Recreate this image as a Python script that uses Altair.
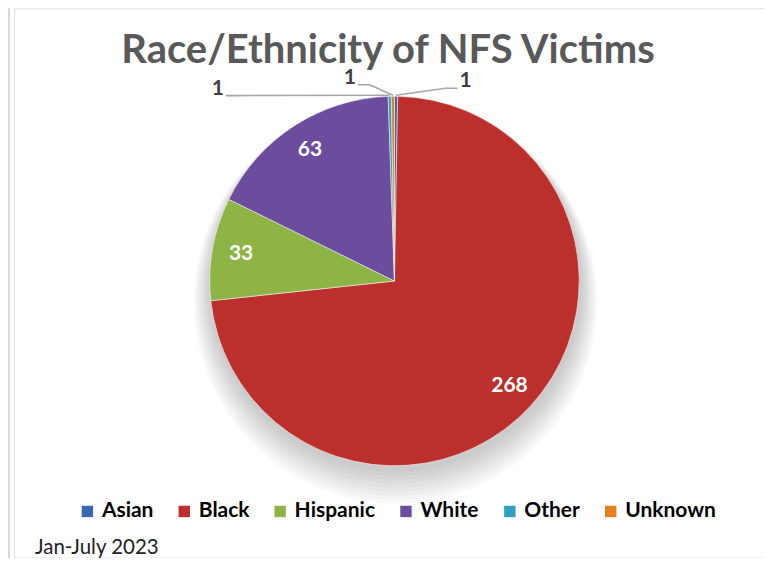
import math
import altair as alt
import pandas as pd

# ---- data ----
categories = ["Asian", "Black", "Hispanic", "White", "Other", "Unknown"]
values = [1, 268, 33, 63, 1, 1]
colors = ["#3767AE", "#BB302C", "#8DB444", "#6C4C9C", "#2EA0C2", "#E6801E"]

# outside-label placement (style): angle (deg, clockwise from top) and radius of leader end
small_label_angle = {"Asian": 18.1, "Other": -42.3, "Unknown": -10.6}
small_label_r = {"Asian": 203, "Other": 251, "Unknown": 200}

# ---- layout (style) ----
W, H = 751, 550
CX, CY = 381, 273           # pie centre inside the view
R = 185

df = pd.DataFrame({"cat": categories, "value": values, "idx": list(range(len(categories)))})
df["inner"] = [str(v) if v >= 5 else "" for v in values]

total = sum(values)
cum = 0
lines, outer = [], []
for c, v in zip(categories, values):
    mid = (cum + v / 2) / total * 360
    cum += v
    if c in small_label_angle:
        a0 = math.radians(mid)
        ex, ey = (R + 1) * math.sin(a0), (R + 1) * math.cos(a0)
        a1 = math.radians(small_label_angle[c])
        lx, ly = small_label_r[c] * math.sin(a1), small_label_r[c] * math.cos(a1)
        side = 1 if lx > 0 else -1
        elbow_x = lx - side * 12
        lines += [
            {"cat": c, "k": 0, "x": ex, "y": ey},
            {"cat": c, "k": 1, "x": elbow_x, "y": ly},
            {"cat": c, "k": 2, "x": lx, "y": ly},
        ]
        outer.append({"cat": c, "x": lx + side * 8, "y": ly + 7, "t": str(v)})

lines_df = pd.DataFrame(lines)
outer_df = pd.DataFrame(outer)

xs = alt.Scale(domain=[-CX, W - CX])
ys = alt.Scale(domain=[-(H - CY), CY])

color = alt.Color(
    "cat:N",
    scale=alt.Scale(domain=categories, range=colors),
    sort=categories,
    legend=alt.Legend(
        title=None, orient="none", legendX=63, legendY=493, direction="horizontal",
        columns=6, symbolType="square", symbolSize=130, symbolStrokeWidth=0,
        labelFont="Lato", labelFontWeight="bold", labelFontSize=21, labelColor="#000000",
        columnPadding=20, labelOffset=4,
    ),
)

base = alt.Chart(df)
one = alt.Chart(pd.DataFrame({"d": [0]}))

# soft drop shadow under the pie
shadows = [
    one.mark_arc(theta=0, theta2=2 * math.pi, radius=R + 1 + 2 * k, fill="#000000",
                 fillOpacity=0.022).encode(
        x=alt.value(CX + 1), y=alt.value(CY + 5 + 2 * k)
    )
    for k in range(9)
]

pie = base.mark_arc(stroke="#f4f4f4", strokeWidth=0.6, radius=R).encode(
    theta=alt.Theta("value:Q", stack=True),
    order=alt.Order("idx:Q"),
    color=color,
    x=alt.value(CX), y=alt.value(CY),
)

inner = base.mark_text(
    radius=156, font="Lato", fontWeight="bold", fontSize=21, color="#ffffff"
).encode(
    theta=alt.Theta("value:Q", stack=True),
    order=alt.Order("idx:Q"),
    text="inner:N",
    x=alt.value(CX), y=alt.value(CY),
)

leaders = alt.Chart(lines_df).mark_line(color="#A6A6A6", strokeWidth=1.6).encode(
    x=alt.X("x:Q", scale=xs, axis=None),
    y=alt.Y("y:Q", scale=ys, axis=None),
    detail="cat:N",
    order="k:Q",
)

outer_txt = alt.Chart(outer_df).mark_text(
    font="Lato", fontWeight="bold", fontSize=21, color="#404040"
).encode(
    x=alt.X("x:Q", scale=xs, axis=None),
    y=alt.Y("y:Q", scale=ys, axis=None),
    text="t:N",
)

title = alt.Chart(pd.DataFrame({"t": ["Race/Ethnicity of NFS Victims"]})).mark_text(
    font="Lato", fontWeight="bold", fontSize=40, color="#595959", baseline="middle"
).encode(x=alt.value(W / 2 - 1), y=alt.value(43), text="t:N")

foot = alt.Chart(pd.DataFrame({"t": ["Jan-July 2023"]})).mark_text(
    font="Lato", fontSize=20.5, color="#222222", align="left", baseline="middle"
).encode(x=alt.value(21), y=alt.value(540), text="t:N")

edge = one.mark_rule(color="#D9D9D9", strokeWidth=2).encode(
    x=alt.value(-5), y=alt.value(0), y2=alt.value(H + 4)
)

chart = alt.layer(*shadows, pie, inner, leaders, outer_txt, title, foot, edge).properties(
    width=W, height=H, padding={"left": 6, "top": 0, "right": 0, "bottom": 0},
    autosize=alt.AutoSizeParams(type="none"),
).configure_view(stroke="#D9D9D9", strokeWidth=1.5).configure(background="#ffffff")

chart.save("out.html", embed_options={"renderer": "svg", "actions": False})
